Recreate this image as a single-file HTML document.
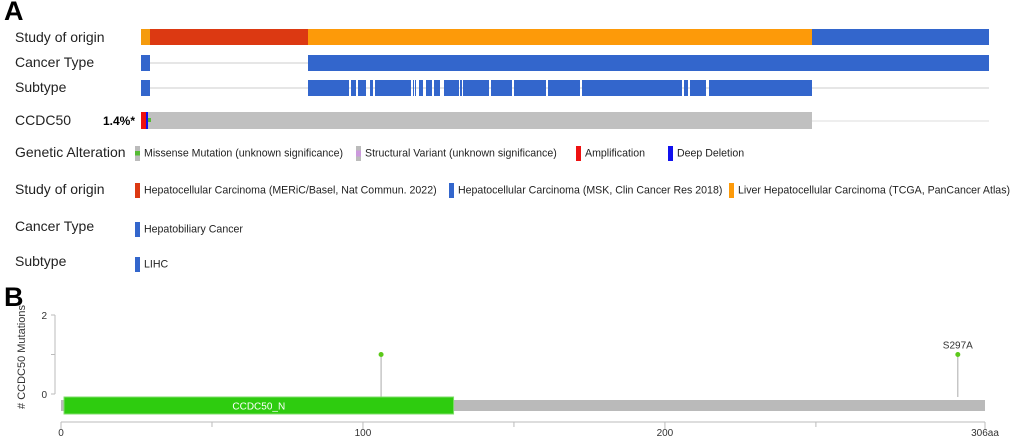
<!DOCTYPE html>
<html><head><meta charset="utf-8"><style>
body{margin:0;width:1020px;height:439px;background:#fff;font-family:"Liberation Sans",Arial,sans-serif;overflow:hidden;position:relative}
.a{position:absolute}
.lbl{position:absolute;font-size:14px;color:#222}
.leg{position:absolute;font-size:10.6px;color:#222;white-space:nowrap}
.sw{display:inline-block;width:5px;height:15px;vertical-align:middle;margin-right:4px}
</style></head><body>
<div class="a" style="left:4px;top:-4px;font-size:27px;font-weight:bold">A</div>
<div class="lbl" style="left:15px;top:29px">Study of origin</div>
<div class="lbl" style="left:15px;top:54px">Cancer Type</div>
<div class="lbl" style="left:15px;top:79px">Subtype</div>
<div class="lbl" style="left:15px;top:112px">CCDC50</div>
<div class="a" style="left:103px;top:114px;font-size:12px;font-weight:bold">1.4%*</div>
<svg class="a" style="left:0;top:0" width="1020" height="140">
<rect x="141" y="29" width="9" height="16" fill="#f59b0d"/>
<rect x="150" y="29" width="158" height="16" fill="#dc3912"/>
<rect x="308" y="29" width="504" height="16" fill="#fd9a09"/>
<rect x="812" y="29" width="177" height="16" fill="#3366cc"/>
<line x1="150" y1="63" x2="308" y2="63" stroke="#ccc"/>
<rect x="141" y="55" width="9" height="16" fill="#3366cc"/>
<rect x="308" y="55" width="681" height="16" fill="#3366cc"/>
<line x1="150" y1="88" x2="989" y2="88" stroke="#ccc"/>
<rect x="141" y="80" width="9" height="16" fill="#3366cc"/>
<g id="sub" fill="#3366cc"></g>
<line x1="812" y1="121" x2="989" y2="121" stroke="#ddd"/>
<rect x="141" y="112" width="671" height="17" fill="#c0c0c0"/>
<rect x="141" y="112" width="5" height="17" fill="#ee1111"/>
<rect x="146" y="112" width="2" height="17" fill="#1111ee"/>
<rect x="148" y="118" width="3" height="4" fill="#55bb33"/>
</svg>
<div class="lbl" style="left:15px;top:144px">Genetic Alteration</div>
<div class="leg" style="left:135px;top:146px"><span class="sw" style="background:linear-gradient(#bbb 35%,#55bb33 35%,#55bb33 65%,#bbb 65%)"></span>Missense Mutation (unknown significance)</div>
<div class="leg" style="left:356px;top:146px"><span class="sw" style="background:linear-gradient(#bbb 30%,#cc99dd 30%,#cc99dd 70%,#bbb 70%)"></span>Structural Variant (unknown significance)</div>
<div class="leg" style="left:576px;top:146px"><span class="sw" style="background:#ee1111"></span>Amplification</div>
<div class="leg" style="left:668px;top:146px"><span class="sw" style="background:#1111ee"></span>Deep Deletion</div>
<div class="lbl" style="left:15px;top:181px">Study of origin</div>
<div class="leg" style="left:135px;top:183px"><span class="sw" style="background:#dc3912"></span>Hepatocellular Carcinoma (MERiC/Basel, Nat Commun. 2022)</div>
<div class="leg" style="left:449px;top:183px"><span class="sw" style="background:#3366cc"></span>Hepatocellular Carcinoma (MSK, Clin Cancer Res 2018)</div>
<div class="leg" style="left:729px;top:183px"><span class="sw" style="background:#fd9a09"></span>Liver Hepatocellular Carcinoma (TCGA, PanCancer Atlas)</div>
<div class="lbl" style="left:15px;top:218px">Cancer Type</div>
<div class="leg" style="left:135px;top:222px"><span class="sw" style="background:#3366cc"></span>Hepatobiliary Cancer</div>
<div class="lbl" style="left:15px;top:253px">Subtype</div>
<div class="leg" style="left:135px;top:257px"><span class="sw" style="background:#3366cc"></span>LIHC</div>
<div class="a" style="left:4px;top:282px;font-size:27px;font-weight:bold">B</div>
<svg class="a" style="left:0;top:290px" width="1020" height="149" font-family="Liberation Sans, Arial, sans-serif">
<g id="lp"></g>
</svg>
<script>
const subSegs=[[308,349],[351,356],[358,366],[370,373],[375,411],[413,414],[415,416],[419,423],[426,432],[434,440],[444,459],[460,462],[463,489],[491,512],[514,546],[548,580],[582,682],[684,688],[690,706],[709,812]];
const g=document.getElementById('sub');
subSegs.forEach(s=>{const r=document.createElementNS('http://www.w3.org/2000/svg','rect');
r.setAttribute('x',s[0]);r.setAttribute('y',80);r.setAttribute('width',s[1]-s[0]);r.setAttribute('height',16);


g.appendChild(r);});

const proteinLength=306;
const mutPositions=[106,297];
const mutCounts=[1,1];
const mutLabels=['','S297A'];
const domainStarts=[1];
const domainEnds=[130];
const domainNames=['CCDC50_N'];
const yTicks=[0,1,2];
const yTickLabels=['0','','2'];
const xTicks=[0,50,100,150,200,250,306];
const xTickLabels=['0','','100','','200','','306aa'];
const NS='http://www.w3.org/2000/svg';
const X=v=>61+v*(985-61)/proteinLength;
const Y=v=>104-v*39.5;
const lp=document.getElementById('lp');
function el(t,a,txt){const e=document.createElementNS(NS,t);for(const k in a)e.setAttribute(k,a[k]);if(txt!==undefined)e.textContent=txt;lp.appendChild(e);return e;}
let e=el('line',{x1:55,y1:Y(2),x2:55,y2:Y(0),stroke:'#bbb'});


yTicks.forEach((t,i)=>{el('line',{x1:51,y1:Y(t),x2:55,y2:Y(t),stroke:'#bbb'});
 if(yTickLabels[i]){const tx=el('text',{x:47,y:Y(t)+4,'font-size':10,'text-anchor':'end',fill:'#333'},yTickLabels[i]);
 
 }});
const yt=el('text',{x:25,y:67,'font-size':11,fill:'#333','text-anchor':'middle',transform:'rotate(-90 25 67)'},'# CCDC50 Mutations');


const bb=el('rect',{x:X(0),y:110,width:X(proteinLength)-X(0),height:11,fill:'#bababa'});


mutPositions.forEach((p,i)=>{
 el('line',{x1:X(p),y1:Y(mutCounts[i]),x2:X(p),y2:107,stroke:'#aaa'});
 const c=el('circle',{cx:X(p),cy:Y(mutCounts[i]),r:2.5,fill:'#5cc91a'});
 
 
 if(mutLabels[i]){const t=el('text',{x:X(p),y:Y(mutCounts[i])-6,'font-size':10,'text-anchor':'middle',fill:'#333'},mutLabels[i]);
 
 }
});
domainStarts.forEach((s,i)=>{
 const r=el('rect',{x:X(s),y:107,width:X(domainEnds[i])-X(s),height:17,fill:'#2ecc0f',stroke:'#7fdc6a'});
 
 
 const t=el('text',{x:(X(s)+X(domainEnds[i]))/2,y:119.5,'font-size':10,'text-anchor':'middle',fill:'#fff'},domainNames[i]);
 
 
});
const xa=el('line',{x1:X(0),y1:132,x2:X(proteinLength),y2:132,stroke:'#bbb'});


xTicks.forEach((t,i)=>{el('line',{x1:X(t),y1:132,x2:X(t),y2:(xTickLabels[i]?139:137),stroke:'#bbb'});
 if(xTickLabels[i]){const tx=el('text',{x:X(t),y:146,'font-size':10,'text-anchor':'middle',fill:'#333'},xTickLabels[i]);
 
 }});
</script>
</body></html>
